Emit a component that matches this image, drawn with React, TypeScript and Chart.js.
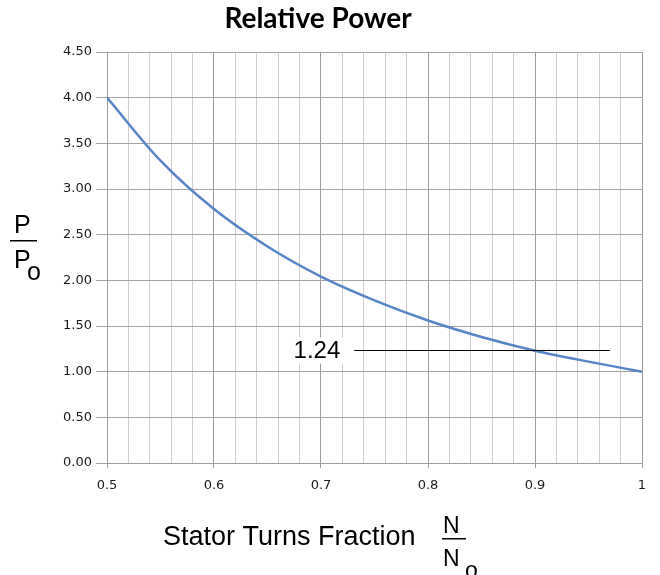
import React, { useEffect, useRef } from 'react';
import { Chart, registerables } from 'chart.js';

Chart.register(...registerables);

// Data
const turnsFraction = [0.5, 0.55, 0.6, 0.65, 0.7, 0.75, 0.8, 0.85, 0.9, 0.95, 1.0];
const relativePower = [4.0, 3.31, 2.78, 2.37, 2.04, 1.78, 1.56, 1.38, 1.23, 1.11, 1.0];

const xMin = 0.5;
const xMax = 1.0;
const xStep = 0.02;
const yMin = 0;
const yMax = 4.5;
const yStep = 0.5;

const markerValue = 1.24;
const markerLabel = '1.24';
const markerFrom = 0.731;
const markerTo = 0.97;
const markerLabelAt = 0.718;

const chartTitle = 'Relative Power';
const xTitle = 'Stator Turns Fraction';

const isMajorX = (v: number) => Math.round(v * 100) % 10 === 0;

const annotationPlugin = {
  id: 'customText',
  afterDatasetsDraw(chart: any) {
    const ctx = chart.ctx as CanvasRenderingContext2D;
    const xs = chart.scales.x;
    const ys = chart.scales.y;
    ctx.save();
    // marker line
    const yy = Math.round(ys.getPixelForValue(markerValue)) + 0.5;
    ctx.strokeStyle = '#000000';
    ctx.lineWidth = 1;
    ctx.beginPath();
    ctx.moveTo(xs.getPixelForValue(markerFrom), yy);
    ctx.lineTo(xs.getPixelForValue(markerTo), yy);
    ctx.stroke();
    // marker label
    ctx.font = '24px "Liberation Sans", Arial, sans-serif';
    const tw = ctx.measureText(markerLabel).width;
    const tx = xs.getPixelForValue(markerLabelAt);
    ctx.fillStyle = '#ffffff';
    ctx.fillRect(tx - tw - 3, yy - 13, tw + 6, 26);
    ctx.fillStyle = '#000000';
    ctx.textAlign = 'right';
    ctx.textBaseline = 'middle';
    ctx.fillText(markerLabel, tx, yy + 1);
    ctx.restore();
  },
  afterDraw(chart: any) {
    const ctx = chart.ctx as CanvasRenderingContext2D;
    ctx.save();
    ctx.fillStyle = '#000000';
    // title
    ctx.font = 'bold 28px Lato, "Open Sans", sans-serif';
    ctx.textAlign = 'center';
    ctx.textBaseline = 'middle';
    ctx.fillText(chartTitle, 318, 19);

    // x title
    ctx.font = '27px "Liberation Sans", Arial, sans-serif';
    ctx.textAlign = 'left';
    ctx.textBaseline = 'alphabetic';
    ctx.fillText(xTitle, 163, 545);

    // N / No fraction
    ctx.font = '23px "Liberation Sans", Arial, sans-serif';
    ctx.fillText('N', 443, 533);
    ctx.fillRect(442, 538, 24, 1.5);
    ctx.fillText('N', 443, 566);
    ctx.fillText('o', 465, 578);

    // P / Po fraction
    ctx.font = '25px "Liberation Sans", Arial, sans-serif';
    ctx.fillText('P', 14, 233);
    ctx.fillRect(10, 240, 27, 1.5);
    ctx.fillText('P', 14, 268);
    ctx.fillText('o', 27, 280);
    ctx.restore();
  },
};

export default function App() {
  const canvasRef = useRef<HTMLCanvasElement | null>(null);

  useEffect(() => {
    if (!canvasRef.current) return;
    const points = turnsFraction.map((x, i) => ({ x, y: relativePower[i] }));
    const chart = new Chart(canvasRef.current, {
      type: 'line',
      data: {
        datasets: [
          {
            data: points,
            borderColor: '#5585c6',
            borderWidth: 2.5,
            pointRadius: 0,
            fill: false,
            cubicInterpolationMode: 'monotone',
          },
        ],
      },
      options: {
        responsive: false,
        animation: false,
        events: [],
        layout: { padding: { top: 52, right: 18, left: 0, bottom: 0 } },
        plugins: { legend: { display: false }, tooltip: { enabled: false }, title: { display: false } },
        scales: {
          x: {
            type: 'linear',
            min: xMin,
            max: xMax,
            afterFit(scale: any) {
              scale.height = 112;
            },
            ticks: {
              stepSize: xStep,
              maxTicksLimit: 200,
              autoSkip: false,
              maxRotation: 0,
              padding: 10,
              color: '#1a1a1a',
              font: { family: '"DejaVu Sans", Verdana, sans-serif', size: 13 },
              callback: (value: any) => {
                const k = Math.round(Number(value) * 100);
                return k % 10 === 0 ? String(k / 100) : '';
              },
            },
            grid: {
              color: (c: any) => (isMajorX(c.tick?.value ?? 0) ? '#9c9c9c' : '#cdcdcd'),
              tickColor: (c: any) => (isMajorX(c.tick?.value ?? 0) ? '#9c9c9c' : 'rgba(0,0,0,0)'),
              tickLength: 5,
              lineWidth: 1,
            },
            border: { color: '#9c9c9c' },
          },
          y: {
            type: 'linear',
            min: yMin,
            max: yMax,
            afterFit(scale: any) {
              scale.width = 107;
            },
            ticks: {
              stepSize: yStep,
              padding: 4,
              color: '#1a1a1a',
              font: { family: '"DejaVu Sans", Verdana, sans-serif', size: 13 },
              callback: (value: any) => Number(value).toFixed(2),
            },
            grid: {
              color: '#a3a3a3',
              tickColor: '#a3a3a3',
              tickLength: 11,
              lineWidth: 1,
            },
            border: { color: '#9c9c9c' },
          },
        },
      },
      plugins: [annotationPlugin],
    } as any);
    return () => chart.destroy();
  }, []);

  return (
    <div style={{ position: 'absolute', left: 0, top: 0, width: 660, height: 575, background: '#ffffff' }}>
      <canvas ref={canvasRef} width={660} height={575} style={{ width: 660, height: 575, display: 'block' }} />
    </div>
  );
}
